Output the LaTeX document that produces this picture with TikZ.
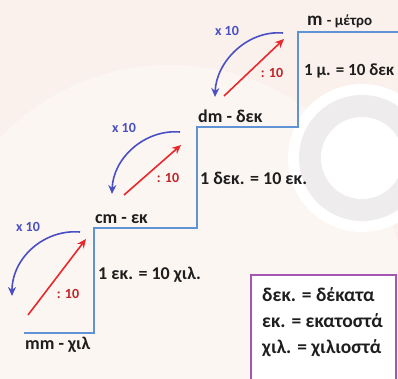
\documentclass[tikz,border=0pt]{standalone}
\usepackage{fontspec}
\setmainfont{Carlito}
\usetikzlibrary{positioning,arrows.meta}
\definecolor{bgcream}{RGB}{250,241,237}
\definecolor{bglight}{RGB}{252,246,242}
\definecolor{ringgray}{RGB}{238,236,236}
\definecolor{stepblue}{RGB}{96,146,214}
\definecolor{arcblue}{RGB}{74,80,196}
\definecolor{arrowred}{RGB}{232,40,44}
\definecolor{divred}{RGB}{192,36,40}
\definecolor{legendpurple}{RGB}{164,86,178}
\definecolor{inkblack}{RGB}{30,30,30}

\begin{document}
\begin{tikzpicture}[x=1pt,y=-1pt,node distance=2pt and 2pt,inner sep=1pt,
  font=\bfseries\fontsize{18}{18}\selectfont,text=inkblack,
  up/.style={arrowred,line width=1.6pt,-{Stealth[length=9pt,width=8pt]}},
  down/.style={arcblue,line width=1.6pt,-{Stealth[length=9pt,width=8pt]}},
  times/.style={arcblue,font=\bfseries\fontsize{14}{14}\selectfont},
  divide/.style={divred,font=\bfseries\fontsize{14}{14}\selectfont}]
\useasboundingbox (0,0) rectangle (398,379);
\clip (0,0) rectangle (398,379);
% faint background mark
\fill[bgcream] (0,0) rectangle (398,379);
\fill[bglight] (170,300) circle (235pt);
\fill[white] (362,158) circle (74pt);
\fill[ringgray] (362,158) circle (63pt);
\fill[white] (362,158) circle (41pt);

% staircase
\coordinate (a0) at (24,333);
\coordinate (a1) at (94,333);
\coordinate (b0) at (94,228);
\coordinate (b1) at (197,228);
\coordinate (c0) at (197,127);
\coordinate (c1) at (298,127);
\coordinate (d0) at (298,32);
\coordinate (d1) at (400,32);
\draw[stepblue,line width=1.3pt] (a0) -- (a1) -- (b0) -- (b1) -- (c0) -- (c1) -- (d0) -- (d1);

% unit names
\node (mm) [below right=3pt and 0pt of a0] {mm - χιλ};
\node (cm) [above right=3pt and 0pt of b0] {cm - εκ};
\node (dm) [above right=3pt and 0pt of c0] {dm - δεκ};
\node (m) [above right=3pt and 8pt of d0] {\fontsize{19}{19}\selectfont m {\fontsize{15}{15}\selectfont - μέτρο}};

% relations
\node (eq1) [anchor=west] at (97,275) {1 εκ. = 10 χιλ.};
\node (eq2) [anchor=west] at (199,178) {1 δεκ. = 10 εκ.};
\node (eq3) [anchor=west,font=\bfseries\fontsize{17}{17}\selectfont] at (303,71) {1 μ. = 10 δεκ};

% step mm -> cm
\coordinate (r1a) at (28,315);
\coordinate (r1b) at (86,239);
\coordinate (k1a) at (80,232);
\coordinate (k1b) at (12,296);
\draw[up] (r1a) -- (r1b);
\draw[down] (k1a) .. controls (44,229) and (12,258) .. (k1b);
\node (t1) [times] at (28,227) {x 10};
\node (d1lab) [divide] at (68,294) {: 10};

% step cm -> dm
\coordinate (r2a) at (124,195);
\coordinate (r2b) at (181,145);
\coordinate (k2a) at (180,132);
\coordinate (k2b) at (112,194);
\draw[up] (r2a) -- (r2b);
\draw[down] (k2a) .. controls (145,129) and (113,158) .. (k2b);
\node (t2) [times] at (124,128) {x 10};
\node (d2lab) [divide] at (168,178) {: 10};

% step dm -> m
\coordinate (r3a) at (224,96);
\coordinate (r3b) at (284,39);
\coordinate (k3a) at (283,33);
\coordinate (k3b) at (215,97);
\draw[up] (r3a) -- (r3b);
\draw[down] (k3a) .. controls (247,30) and (216,62) .. (k3b);
\node (t3) [times] at (227,31) {x 10};
\node (d3lab) [divide] at (272,73) {: 10};

% legend
\coordinate (l0) at (251,275);
\coordinate (l1) at (396,390);
\draw[legendpurple,line width=1.8pt,fill=white] (l0) rectangle (l1);
\node (key) [anchor=north west,align=left,font=\bfseries\fontsize{19.5}{26}\selectfont] at (261,286)
  {δεκ. = δέκατα\\ εκ. = εκατοστά\\ χιλ. = χιλιοστά};
\end{tikzpicture}
\end{document}
